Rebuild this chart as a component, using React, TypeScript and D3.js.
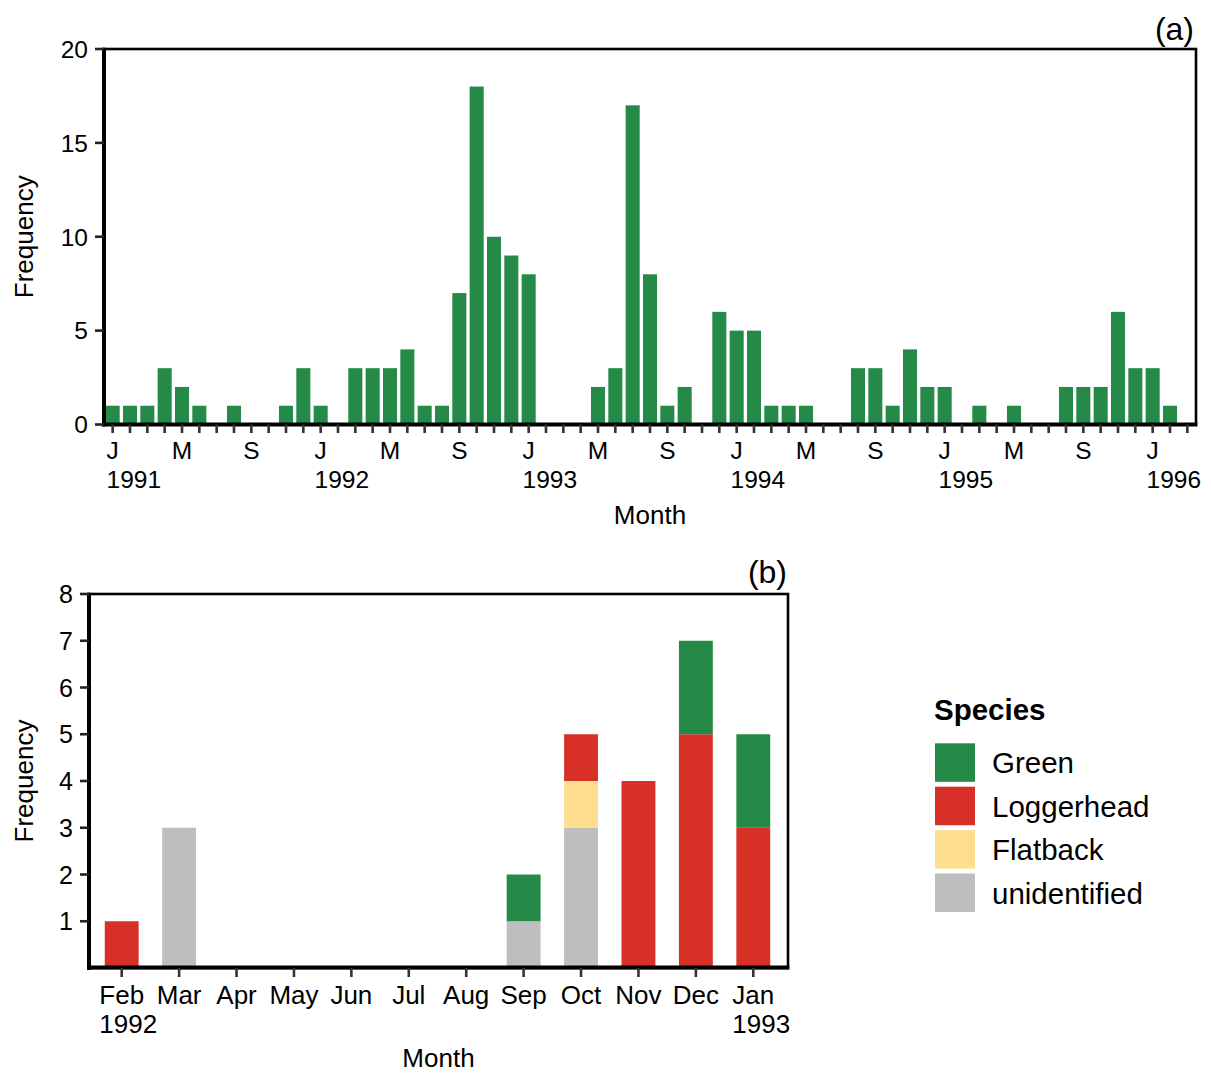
import React, { useEffect, useRef } from "react";
import * as d3 from "d3";

// ---------- Panel (a) data: monthly frequency, Jan 1991 .. Mar 1996 ----------
const countsA1991 = [1, 1, 1, 3, 2, 1, 0, 1, 0, 0, 1, 3];
const countsA1992 = [1, 0, 3, 3, 3, 4, 1, 1, 7, 18, 10, 9];
const countsA1993 = [8, 0, 0, 0, 2, 3, 17, 8, 1, 2, 0, 6];
const countsA1994 = [5, 5, 1, 1, 1, 0, 0, 3, 3, 1, 4, 2];
const countsA1995 = [2, 0, 1, 0, 1, 0, 0, 2, 2, 2, 6, 3];
const countsA1996 = [3, 1, 0];
const yTicksA = [0, 5, 10, 15, 20];
const monthLetters = ["J", "F", "M", "A", "M", "J", "J", "A", "S", "O", "N", "D"];

// ---------- Panel (b) data: Feb 1992 .. Jan 1993 by species ----------
const monthsB = ["Feb", "Mar", "Apr", "May", "Jun", "Jul", "Aug", "Sep", "Oct", "Nov", "Dec", "Jan"];
const yearLabelsB = ["1992", "", "", "", "", "", "", "", "", "", "", "1993"];
const greenB = [0, 0, 0, 0, 0, 0, 0, 1, 0, 0, 2, 2];
const loggerheadB = [1, 0, 0, 0, 0, 0, 0, 0, 1, 4, 5, 3];
const flatbackB = [0, 0, 0, 0, 0, 0, 0, 0, 1, 0, 0, 0];
const unidentifiedB = [0, 3, 0, 0, 0, 0, 0, 1, 3, 0, 0, 0];
const yTicksB = [1, 2, 3, 4, 5, 6, 7, 8];
const speciesLegend = ["Green", "Loggerhead", "Flatback", "unidentified"];
const stackOrder = ["unidentified", "Flatback", "Loggerhead", "Green"];

const COLORS: Record<string, string> = {
  Green: "#258a47",
  Loggerhead: "#d63027",
  Flatback: "#fdde8e",
  unidentified: "#bebebe",
};

const FONT = "'Liberation Sans', Arial, Helvetica, sans-serif";

export default function App() {
  const ref = useRef<SVGSVGElement | null>(null);

  useEffect(() => {
    const svg = d3.select(ref.current);
    svg.selectAll("*").remove();
    svg.attr("font-family", FONT);

    // ================= Panel (a) =================
    const countsA = [...countsA1991, ...countsA1992, ...countsA1993, ...countsA1994, ...countsA1995, ...countsA1996];
    const datesA = d3.timeMonth.range(new Date(1991, 0, 1), new Date(1996, 3, 1));
    const dataA = datesA.map((d, i) => ({ date: d, key: i, value: countsA[i] }));

    const A = { left: 104, right: 1196, top: 49, bottom: 424.5 };
    const xA = d3.scaleBand<number>().domain(dataA.map((d) => d.key)).range([A.left, A.right]).paddingInner(0.19).paddingOuter(0.095);
    const yA = d3.scaleLinear().domain([0, 20]).range([A.bottom, A.top]);
    const gA = svg.append("g");

    gA.selectAll("rect.bar")
      .data(dataA.filter((d) => d.value > 0))
      .join("rect")
      .attr("x", (d) => xA(d.key)!)
      .attr("width", xA.bandwidth())
      .attr("y", (d) => yA(d.value))
      .attr("height", (d) => yA(0) - yA(d.value))
      .attr("fill", COLORS.Green);

    // frame
    gA.append("rect").attr("x", A.left).attr("y", A.top).attr("width", A.right - A.left).attr("height", A.bottom - A.top)
      .attr("fill", "none").attr("stroke", "#000").attr("stroke-width", 2.6);
    gA.append("line").attr("x1", A.left).attr("x2", A.left).attr("y1", A.top - 1.3).attr("y2", A.bottom + 2).attr("stroke", "#000").attr("stroke-width", 4);
    gA.append("line").attr("x1", A.left - 2).attr("x2", A.right + 1.3).attr("y1", A.bottom).attr("y2", A.bottom).attr("stroke", "#000").attr("stroke-width", 4);

    // y ticks
    yTicksA.forEach((t) => {
      gA.append("line").attr("x1", A.left - 9).attr("x2", A.left).attr("y1", yA(t)).attr("y2", yA(t)).attr("stroke", "#222").attr("stroke-width", 2.6);
      gA.append("text").attr("x", A.left - 16).attr("y", yA(t)).attr("dy", "0.36em").attr("text-anchor", "end")
        .attr("font-size", 24.5).attr("fill", "#000").text(String(t));
    });

    // x ticks
    dataA.forEach((d) => {
      const cx = xA(d.key)! + xA.bandwidth() / 2;
      gA.append("line").attr("x1", cx).attr("x2", cx).attr("y1", A.bottom).attr("y2", A.bottom + 8.5).attr("stroke", "#333").attr("stroke-width", 2.6);
      const m = d.date.getMonth();
      if (m % 4 === 0) {
        const t = gA.append("text").attr("x", cx).attr("y", 459).attr("text-anchor", "middle").attr("font-size", 24.5).text(monthLetters[m]);
        if (m === 0) {
          const w = (t.node() as SVGTextElement).getComputedTextLength();
          gA.append("text").attr("x", cx - w / 2).attr("y", 487.5).attr("text-anchor", "start").attr("font-size", 24.5).text(String(d.date.getFullYear()));
        }
      }
    });

    gA.append("text").attr("x", (A.left + A.right) / 2).attr("y", 524).attr("text-anchor", "middle").attr("font-size", 26).text("Month");
    gA.append("text").attr("transform", `translate(33,${(A.top + A.bottom) / 2}) rotate(-90)`).attr("text-anchor", "middle").attr("font-size", 26).text("Frequency");
    gA.append("text").attr("x", A.right - 2).attr("y", 40).attr("text-anchor", "end").attr("font-size", 32).text("(a)");

    // ================= Panel (b) =================
    const B = { left: 89, right: 788, top: 594, bottom: 968 };
    const rowsB = monthsB.map((m, i) => ({
      idx: i,
      Green: greenB[i],
      Loggerhead: loggerheadB[i],
      Flatback: flatbackB[i],
      unidentified: unidentifiedB[i],
    }));
    const xB = d3.scaleBand<number>().domain(rowsB.map((r) => r.idx)).range([B.left + 4, B.right - 6]).paddingInner(0.41).paddingOuter(0.205);
    const yB = d3.scaleLinear().domain([0, 8]).range([B.bottom, B.top]);
    const series = d3.stack<any>().keys(stackOrder)(rowsB);
    const gB = svg.append("g");

    series.forEach((s) => {
      gB.selectAll(null)
        .data(s.filter((p) => p[1] - p[0] > 0))
        .join("rect")
        .attr("x", (p: any) => xB(p.data.idx)!)
        .attr("width", xB.bandwidth())
        .attr("y", (p: any) => yB(p[1]))
        .attr("height", (p: any) => yB(p[0]) - yB(p[1]))
        .attr("fill", COLORS[s.key]);
    });

    gB.append("rect").attr("x", B.left).attr("y", B.top).attr("width", B.right - B.left).attr("height", B.bottom - B.top)
      .attr("fill", "none").attr("stroke", "#000").attr("stroke-width", 2.6);
    gB.append("line").attr("x1", B.left).attr("x2", B.left).attr("y1", B.top - 1.3).attr("y2", B.bottom + 2).attr("stroke", "#000").attr("stroke-width", 4);
    gB.append("line").attr("x1", B.left - 2).attr("x2", B.right + 1.3).attr("y1", B.bottom - 0.5).attr("y2", B.bottom - 0.5).attr("stroke", "#000").attr("stroke-width", 4);

    yTicksB.forEach((t) => {
      gB.append("line").attr("x1", B.left - 9).attr("x2", B.left).attr("y1", yB(t)).attr("y2", yB(t)).attr("stroke", "#222").attr("stroke-width", 2.6);
      gB.append("text").attr("x", B.left - 16).attr("y", yB(t)).attr("dy", "0.36em").attr("text-anchor", "end")
        .attr("font-size", 25).text(String(t));
    });

    rowsB.forEach((r, i) => {
      const cx = xB(r.idx)! + xB.bandwidth() / 2;
      gB.append("line").attr("x1", cx).attr("x2", cx).attr("y1", B.bottom).attr("y2", B.bottom + 9).attr("stroke", "#333").attr("stroke-width", 2.6);
      const t = gB.append("text").attr("x", cx).attr("y", 1004).attr("text-anchor", "middle").attr("font-size", 26).text(monthsB[i]);
      if (yearLabelsB[i]) {
        const w = (t.node() as SVGTextElement).getComputedTextLength();
        gB.append("text").attr("x", cx - w / 2).attr("y", 1033).attr("text-anchor", "start").attr("font-size", 26).text(yearLabelsB[i]);
      }
    });

    gB.append("text").attr("x", (B.left + B.right) / 2).attr("y", 1067).attr("text-anchor", "middle").attr("font-size", 26).text("Month");
    gB.append("text").attr("transform", `translate(33,${(B.top + B.bottom) / 2}) rotate(-90)`).attr("text-anchor", "middle").attr("font-size", 26).text("Frequency");
    gB.append("text").attr("x", B.right - 1).attr("y", 583).attr("text-anchor", "end").attr("font-size", 32).text("(b)");

    // legend
    const gL = svg.append("g");
    gL.append("text").attr("x", 934).attr("y", 720).attr("font-size", 29.5).attr("font-weight", "bold").text("Species");
    speciesLegend.forEach((s, i) => {
      const y0 = 743.3 + i * 43.4;
      gL.append("rect").attr("x", 935).attr("y", y0).attr("width", 40).attr("height", 38.5).attr("fill", COLORS[s]);
      gL.append("text").attr("x", 992).attr("y", y0 + 19.5).attr("dy", "0.36em").attr("font-size", 29.5).text(s);
    });
  }, []);

  return (
    <div style={{ position: "absolute", left: 0, top: 0 }}>
      <svg ref={ref} width={1211} height={1073} style={{ display: "block", background: "#fff" }} />
    </div>
  );
}
